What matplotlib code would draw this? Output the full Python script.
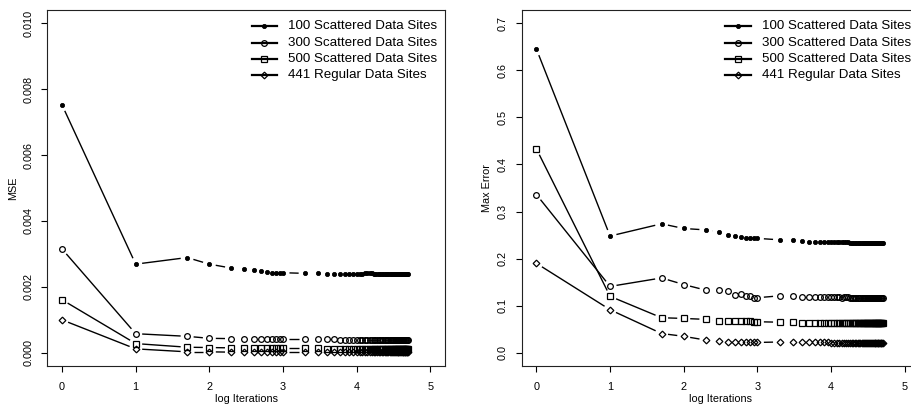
import numpy as np
import matplotlib
matplotlib.use("Agg")
import matplotlib.pyplot as plt
from matplotlib.collections import LineCollection

plt.rcParams['font.family'] = ['Liberation Sans', 'DejaVu Sans']

# ---------------- data ----------------
iterations = [1, 10, 50,
              100, 200, 300, 400, 500, 600, 700, 800, 900, 1000,
              2000, 3000, 4000, 5000, 6000, 7000, 8000, 9000, 10000,
              11000, 12000, 13000, 14000, 15000, 16000, 17000, 18000, 19000, 20000,
              21000, 22000, 23000, 24000, 25000, 26000, 27000, 28000, 29000, 30000,
              31000, 32000, 33000, 34000, 35000, 36000, 37000, 38000, 39000, 40000,
              41000, 42000, 43000, 44000, 45000, 46000, 47000, 48000, 49000, 50000]

series_labels = ["100 Scattered Data Sites", "300 Scattered Data Sites",
                 "500 Scattered Data Sites", "441 Regular Data Sites"]

mse_100 = [0.00752, 0.00269, 0.00289,
           0.00269, 0.00257, 0.00255, 0.00251, 0.00247, 0.00244, 0.00243, 0.00242, 0.00242, 0.00243,
           0.00241, 0.00242, 0.00240, 0.00240, 0.00240, 0.00240, 0.00240, 0.00240, 0.00240,
           0.00240, 0.00240, 0.00241, 0.00241, 0.00241, 0.00241, 0.00240, 0.00240, 0.00240, 0.00240,
           0.00240, 0.00240, 0.00240, 0.00240, 0.00240, 0.00240, 0.00240, 0.00240, 0.00240, 0.00240,
           0.00240, 0.00240, 0.00240, 0.00240, 0.00240, 0.00240, 0.00240, 0.00240, 0.00240, 0.00240,
           0.00240, 0.00240, 0.00240, 0.00240, 0.00240, 0.00240, 0.00240, 0.00240, 0.00240, 0.00240]
mse_300 = [0.00315, 0.00058, 0.00050,
           0.00044, 0.00043, 0.00043, 0.00042, 0.00042, 0.00042, 0.00042, 0.00041, 0.00041, 0.00041,
           0.00041, 0.00041, 0.00041, 0.00041, 0.00040, 0.00040, 0.00040, 0.00040, 0.00040,
           0.00040, 0.00040, 0.00040, 0.00040, 0.00040, 0.00040, 0.00040, 0.00040, 0.00040, 0.00040,
           0.00040, 0.00040, 0.00040, 0.00040, 0.00040, 0.00040, 0.00040, 0.00040, 0.00040, 0.00040,
           0.00040, 0.00040, 0.00040, 0.00040, 0.00040, 0.00040, 0.00040, 0.00040, 0.00040, 0.00040,
           0.00040, 0.00040, 0.00040, 0.00040, 0.00040, 0.00040, 0.00040, 0.00040, 0.00040, 0.00040]
mse_500 = [0.00161, 0.00028, 0.00017,
           0.00016, 0.00015, 0.00015, 0.00014, 0.00014, 0.00014, 0.00014, 0.00014, 0.00014, 0.00014,
           0.00014, 0.00014, 0.00013, 0.00013, 0.00013, 0.00013, 0.00013, 0.00013, 0.00013,
           0.00013, 0.00013, 0.00013, 0.00013, 0.00013, 0.00013, 0.00013, 0.00013, 0.00013, 0.00013,
           0.00013, 0.00013, 0.00013, 0.00013, 0.00013, 0.00013, 0.00013, 0.00013, 0.00013, 0.00013,
           0.00013, 0.00013, 0.00013, 0.00013, 0.00013, 0.00013, 0.00013, 0.00013, 0.00013, 0.00013,
           0.00013, 0.00013, 0.00013, 0.00013, 0.00013, 0.00013, 0.00013, 0.00013, 0.00013, 0.00013]
mse_441 = [0.00100, 0.00012, 0.00003,
           0.00003, 0.00002, 0.00002, 0.00002, 0.00002, 0.00002, 0.00002, 0.00002, 0.00002, 0.00002,
           0.00002, 0.00002, 0.00002, 0.00002, 0.00002, 0.00002, 0.00002, 0.00002, 0.00002,
           0.00002, 0.00002, 0.00002, 0.00002, 0.00002, 0.00002, 0.00002, 0.00002, 0.00002, 0.00002,
           0.00002, 0.00002, 0.00002, 0.00002, 0.00002, 0.00002, 0.00002, 0.00002, 0.00002, 0.00002,
           0.00002, 0.00002, 0.00002, 0.00002, 0.00002, 0.00002, 0.00002, 0.00002, 0.00002, 0.00002,
           0.00002, 0.00002, 0.00002, 0.00002, 0.00002, 0.00002, 0.00002, 0.00002, 0.00002, 0.00002]

maxerr_100 = [0.645, 0.248, 0.274,
              0.264, 0.261, 0.257, 0.251, 0.249, 0.245, 0.244, 0.243, 0.243, 0.243,
              0.240, 0.239, 0.237, 0.236, 0.236, 0.236, 0.235, 0.235, 0.235,
              0.235, 0.235, 0.235, 0.235, 0.235, 0.235, 0.235, 0.234, 0.234, 0.234,
              0.234, 0.234, 0.234, 0.234, 0.234, 0.234, 0.234, 0.234, 0.234, 0.234,
              0.234, 0.234, 0.234, 0.234, 0.234, 0.234, 0.234, 0.234, 0.234, 0.234,
              0.234, 0.234, 0.234, 0.234, 0.234, 0.234, 0.234, 0.234, 0.234, 0.234]
maxerr_300 = [0.336, 0.141, 0.159,
              0.145, 0.133, 0.133, 0.131, 0.123, 0.125, 0.121, 0.120, 0.117, 0.117,
              0.121, 0.120, 0.118, 0.118, 0.119, 0.119, 0.118, 0.118, 0.118,
              0.118, 0.118, 0.118, 0.117, 0.118, 0.118, 0.118, 0.117, 0.117, 0.117,
              0.117, 0.117, 0.117, 0.117, 0.117, 0.117, 0.117, 0.117, 0.117, 0.117,
              0.117, 0.117, 0.117, 0.117, 0.117, 0.117, 0.117, 0.117, 0.117, 0.117,
              0.117, 0.117, 0.117, 0.117, 0.117, 0.117, 0.117, 0.117, 0.117, 0.117]
maxerr_500 = [0.433, 0.120, 0.0745,
              0.073, 0.071, 0.068, 0.067, 0.067, 0.068, 0.067, 0.067, 0.066, 0.066,
              0.065, 0.065, 0.064, 0.064, 0.064, 0.064, 0.064, 0.064, 0.064,
              0.064, 0.064, 0.064, 0.064, 0.064, 0.064, 0.064, 0.064, 0.064, 0.064,
              0.064, 0.064, 0.064, 0.064, 0.064, 0.064, 0.064, 0.064, 0.064, 0.064,
              0.064, 0.064, 0.064, 0.064, 0.064, 0.064, 0.064, 0.064, 0.064, 0.064,
              0.064, 0.064, 0.064, 0.064, 0.064, 0.064, 0.064, 0.064, 0.064, 0.064]
maxerr_441 = [0.190, 0.0915, 0.041,
              0.035, 0.027, 0.025, 0.024, 0.023, 0.023, 0.023, 0.023, 0.022, 0.022,
              0.023, 0.023, 0.022, 0.022, 0.022, 0.022, 0.022, 0.022, 0.021,
              0.021, 0.021, 0.021, 0.021, 0.021, 0.021, 0.021, 0.021, 0.021, 0.021,
              0.021, 0.021, 0.021, 0.021, 0.021, 0.021, 0.021, 0.021, 0.021, 0.021,
              0.021, 0.021, 0.021, 0.021, 0.021, 0.021, 0.021, 0.021, 0.021, 0.021,
              0.021, 0.021, 0.021, 0.021, 0.021, 0.021, 0.021, 0.021, 0.021, 0.021]

mse_series = [mse_100, mse_300, mse_500, mse_441]
maxerr_series = [maxerr_100, maxerr_300, maxerr_500, maxerr_441]

x_ticks = [0, 1, 2, 3, 4, 5]
mse_ticks = [0.000, 0.002, 0.004, 0.006, 0.008, 0.010]
maxerr_ticks = [0.0, 0.1, 0.2, 0.3, 0.4, 0.5, 0.6, 0.7]

# ---------------- style ----------------
DPI = 100
W, H = 912, 405
styles = [
    dict(marker='o', ms=3.0, mfc='black', mec='black', mew=0.6),
    dict(marker='o', ms=4.1, mfc='none', mec='black', mew=0.9),
    dict(marker='s', ms=3.7, mfc='none', mec='black', mew=0.9),
    dict(marker='D', ms=3.4, mfc='none', mec='black', mew=0.9),
]
GAP_PX = 6.5
TICK_FS = 7.8
LEG_FS = 9.6

fig = plt.figure(figsize=(W / DPI, H / DPI), dpi=DPI)
fig.patch.set_facecolor('white')

ax_w = 397.7 / W
ax_h = 356 / H
ax_b = (H - 366) / H
ax1 = fig.add_axes([47.3 / W, ax_b, ax_w, ax_h])
ax2 = fig.add_axes([521.7 / W, ax_b, ax_w, ax_h])

x = np.log10(np.array(iterations, dtype=float))


def type_b(ax, xv, yv, st):
    pts = ax.transData.transform(np.column_stack([xv, yv]))
    inv = ax.transData.inverted()
    segs = []
    gap = GAP_PX * DPI / 100.0
    for i in range(len(pts) - 1):
        p0, p1 = pts[i], pts[i + 1]
        d = np.hypot(*(p1 - p0))
        if d > 2 * gap:
            u = (p1 - p0) / d
            a = inv.transform(p0 + u * gap)
            b = inv.transform(p1 - u * gap)
            segs.append([a, b])
    ax.add_collection(LineCollection(segs, colors='black', linewidths=1.0))
    ax.plot(xv, yv, linestyle='none', **st)


def setup(ax, ylim, yticks, fmt, ylabel, leg_x0, leg_x1, leg_tx):
    ax.set_xlim(-0.2, 5.2)
    ax.set_ylim(*ylim)
    ax.set_xticks(x_ticks)
    ax.set_xticklabels([str(t) for t in x_ticks])
    ax.set_yticks(yticks)
    ax.set_yticklabels([fmt.format(t) for t in yticks], rotation=90, va='center')
    ax.tick_params(axis='x', length=4.3, width=0.8, pad=7, labelsize=TICK_FS)
    ax.tick_params(axis='y', length=4.3, width=0.8, pad=5.5, labelsize=TICK_FS)
    for s in ax.spines.values():
        s.set_linewidth(0.8)
        s.set_color('#222222')
    ax.text(0.5, -(399 - 366) / 356, "log Iterations", transform=ax.transAxes,
            ha='center', va='center', fontsize=TICK_FS)
    ax.text(-34.5 / 397.7, 0.5, ylabel, transform=ax.transAxes, rotation=90,
            ha='center', va='center', fontsize=TICK_FS)
    rows = [26, 42.7, 58.7, 74.8]
    for r, st, lab in zip(rows, styles, series_labels):
        yy = 1 - (r - 10) / 356
        ax.plot([leg_x0, leg_x1], [yy, yy], color='black', lw=1.6,
                transform=ax.transAxes, clip_on=False)
        ax.plot([(leg_x0 + leg_x1) / 2], [yy], transform=ax.transAxes, clip_on=False,
                linestyle='none', **st)
        ax.text(leg_tx, yy, lab, transform=ax.transAxes, ha='left', va='center',
                fontsize=LEG_FS)


setup(ax1, (-0.0004, 0.0104), mse_ticks, "{:.3f}", "MSE",
      (252 - 47.3) / 397.7, (277 - 47.3) / 397.7, (288.5 - 47.3) / 397.7)
setup(ax2, (-0.028, 0.728), maxerr_ticks, "{:.1f}", "Max Error",
      (725 - 521.7) / 397.7, (751 - 521.7) / 397.7, (762 - 521.7) / 397.7)

for ys, st in zip(mse_series, styles):
    type_b(ax1, x, ys, st)
for ys, st in zip(maxerr_series, styles):
    type_b(ax2, x, ys, st)

fig.savefig("out.png", dpi=DPI, facecolor='white')
